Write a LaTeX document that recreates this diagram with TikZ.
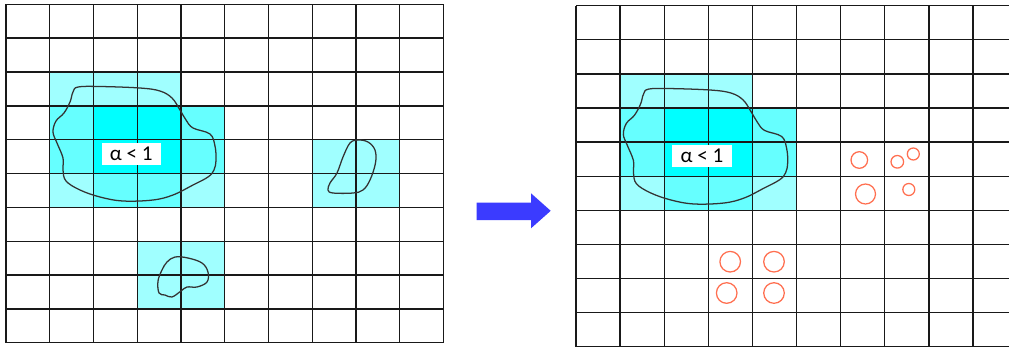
\documentclass[tikz,border=0pt]{standalone}
\usepackage{fontspec}
\newfontfamily\labelfont{Carlito}
\definecolor{cyanL}{HTML}{A0FFFF}
\definecolor{cyanM}{HTML}{66FFFF}
\definecolor{cyanB}{HTML}{00FFFF}
\definecolor{arrowblue}{HTML}{3B3BFF}
\definecolor{ringred}{HTML}{FF6F50}
\definecolor{blobgray}{HTML}{333333}
\tikzset{
  gridline/.style={draw=black!90, line width=0.95pt},
  blobline/.style={draw=blobgray, line width=0.9pt},
  lbl/.style={fill=white, inner sep=0pt, minimum width=1.475cm, minimum height=0.55cm, font=\labelfont\fontsize{15}{17}\selectfont},
  ring/.style={draw=ringred, line width=0.9pt},
}
\newcommand{\bigblobpath}{%
  \draw[blobline] plot[smooth cycle, tension=0.6] coordinates {(78,87) (100,86.5) (140,88) (160,91) (172,98) (180,110) (186,120) (193,128) (210,134) (215,146) (216,160) (214,170) (208,177) (193,185) (173,195) (153,200) (123,201) (100,197) (80,190) (66,181) (63,170) (63,158) (57,143) (53,132) (56,121) (64,113) (70,102) (73,92)};}
\newcommand{\cyancells}{%
  \fill[cyanL] (1,2) rectangle (4,3);
  \fill[cyanM] (1,3) rectangle (2,5);
  \fill[cyanB] (2,3) rectangle (4,5);
  \fill[cyanM] (4,3) rectangle (5,5);
  \fill[cyanL] (1,5) rectangle (2,6);
  \fill[cyanM] (2,5) rectangle (4,6);
  \fill[cyanL] (4,5) rectangle (5,6);}
\newcommand{\gridlines}{%
  \foreach \k in {0,...,10} {
    \draw[gridline] (\k,0) -- (\k,10);
    \draw[gridline] (0,\k) -- (10,\k);
  }}
\begin{document}
\begin{tikzpicture}[x=0.025cm, y=-0.025cm]
\useasboundingbox (0,0) rectangle (1009,350);
\fill[white] (0,0) rectangle (1009,350);
% ---------- left grid ----------
\begin{scope}[shift={(6,4.3)}, x=1.0935cm, y=-0.846cm]
  \cyancells
  \fill[cyanL] (7,4) rectangle (9,6);
  \fill[cyanL] (3,7) rectangle (5,9);
  \gridlines
\end{scope}
\bigblobpath
\draw[blobline] plot[smooth cycle, tension=0.6] coordinates {(358,140) (368,142) (375,150) (375.5,163) (370,180) (363,190) (353,193) (333,193) (328,190) (330,183) (337,173) (343,157) (350,143)};
\draw[blobline] plot[smooth cycle, tension=0.6] coordinates {(175,257) (188,258) (202,263) (208,272) (207,282) (197,287) (187,287) (181,291) (172,297) (165,295) (159,293) (158,281) (162,270) (167,262)};
\node[lbl] (labL) at (131.3,153.8) {α < 1};
% ---------- arrow ----------
\fill[arrowblue] (476.7,202.7) -- (531,202.7) -- (531,193.3) -- (550.7,210.8) -- (531,228.3) -- (531,220) -- (476.7,220) -- cycle;
% ---------- right grid ----------
\begin{scope}
  \clip (0,0) rectangle (1009,350);
  \begin{scope}[shift={(576,5.7)}, x=1.1025cm, y=-0.8525cm]
    \cyancells
    \gridlines
  \end{scope}
\end{scope}
\begin{scope}[shift={(569.95,1.37)}, scale=1.008]
  \bigblobpath
\end{scope}
\node[lbl] (labR) at (702,156) {α < 1};
\draw[ring] (859.3,160) circle[radius=8.3];
\draw[ring] (865.5,194) circle[radius=10];
\draw[ring] (897.3,161.8) circle[radius=6.3];
\draw[ring] (913.3,154) circle[radius=6];
\draw[ring] (908.8,189.5) circle[radius=6];
\draw[ring] (730.2,261.7) circle[radius=10.3];
\draw[ring] (774,261.7) circle[radius=10.3];
\draw[ring] (726.7,293) circle[radius=10.3];
\draw[ring] (774,293) circle[radius=10.3];
\end{tikzpicture}
\end{document}
